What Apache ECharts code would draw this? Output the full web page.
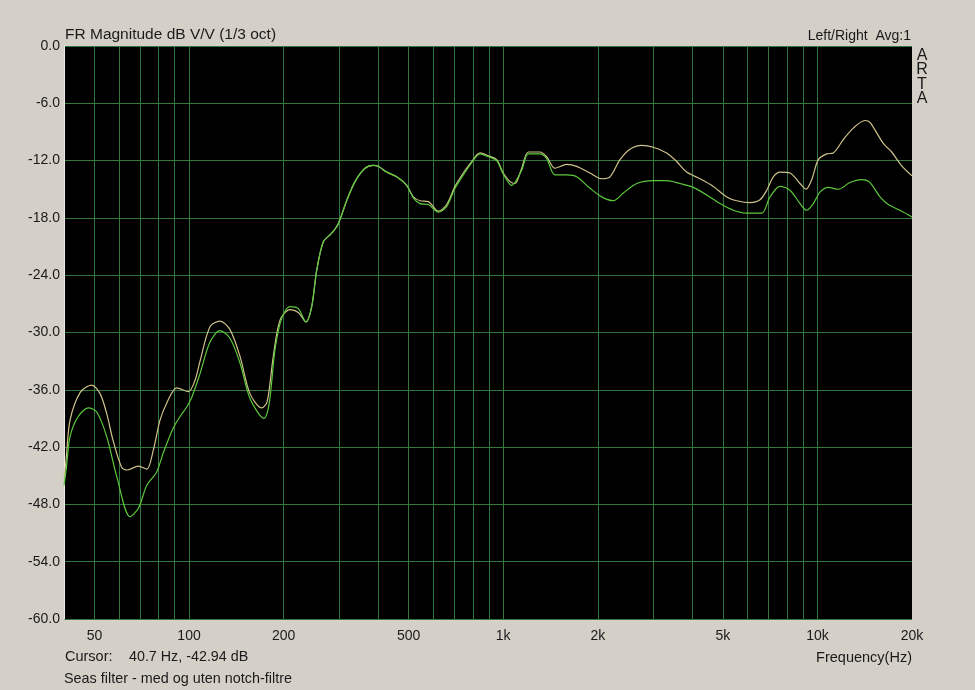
<!DOCTYPE html>
<html>
<head>
<meta charset="utf-8">
<script src="https://cdn.jsdelivr.net/npm/echarts@6/dist/echarts.min.js"></script>
<style>
html,body{margin:0;padding:0;background:#d4d0c8;}
#c{width:975px;height:690px;}
</style>
</head>
<body>
<div id="c"></div>
<script>
// ---- data ----
const freqA = [40, 40.7, 41.8, 45.0, 49.0, 52.1, 54.7, 57.3, 61.0, 63.4, 69.0, 73.4, 77.0, 80.8, 84.9, 91.4, 99.5, 104.5, 108.4, 116.6, 125.5, 135.0, 145.3, 156.3, 170.3, 177.4, 185.4, 194.8, 209.6, 222.7, 235.6, 245.7, 254.9, 267.6, 284.5, 298.6, 317.4, 337.5, 363.1, 385.9, 400.3, 425.6, 458.0, 492.9, 517.3, 543.3, 577.6, 621.6, 660.9, 702.3, 746.5, 793.7, 843.7, 896.5, 953.3, 1000, 1051, 1090, 1145, 1202, 1309, 1375, 1461, 1592, 1713, 1889, 2058, 2187, 2353, 2532, 2759, 3004, 3313, 3565, 3836, 4229, 4662, 5144, 5535, 6101, 6565, 6897, 7238, 7601, 8179, 8802, 9197, 9588, 10065, 10703, 11232, 12088, 13009, 14171, 14699, 16207, 17236, 18490, 20000];
const dbA = [-45.5, -43.0, -39.2, -36.3, -35.5, -36.4, -38.5, -41.3, -44.1, -44.4, -44.0, -44.3, -42.3, -39.2, -37.4, -35.8, -36.2, -35.0, -33.0, -29.4, -28.8, -29.7, -32.5, -36.4, -37.9, -37.2, -32.5, -28.7, -27.6, -27.9, -28.9, -27.3, -23.5, -20.5, -19.6, -18.6, -16.2, -14.2, -12.8, -12.5, -12.6, -13.2, -13.7, -14.6, -15.8, -16.2, -16.3, -17.3, -16.6, -14.7, -13.3, -12.1, -11.2, -11.5, -11.9, -13.3, -14.2, -14.4, -12.8, -11.1, -11.1, -11.6, -12.8, -12.4, -12.6, -13.3, -13.9, -13.7, -11.9, -10.8, -10.4, -10.6, -11.2, -12.1, -13.2, -13.9, -14.7, -15.8, -16.2, -16.4, -16.1, -15.1, -13.7, -13.2, -13.3, -14.4, -15.0, -14.0, -11.9, -11.3, -11.2, -9.8, -8.6, -7.8, -8.0, -10.2, -11.1, -12.5, -13.6];

const freqB = [40, 40.7, 41.8, 44.4, 47.8, 50.8, 54.7, 58.9, 64.9, 69.0, 73.4, 78.9, 82.8, 89.1, 93.6, 98.3, 102.0, 108.4, 116.6, 125.5, 135.0, 145.3, 156.3, 173.2, 180.0, 187.8, 197.2, 209.6, 222.7, 235.6, 245.7, 254.9, 267.6, 284.5, 298.6, 317.4, 337.5, 363.1, 385.9, 400.3, 425.6, 458.0, 492.9, 517.3, 543.3, 577.6, 621.6, 660.9, 702.3, 746.5, 793.7, 843.7, 896.5, 953.3, 1000, 1064, 1145, 1202, 1309, 1375, 1461, 1592, 1713, 1889, 2058, 2241, 2411, 2660, 3004, 3313, 3652, 4027, 4442, 4896, 5400, 5955, 6648, 7065, 7601, 8179, 8802, 9240, 9701, 10189, 10829, 11652, 12697, 13833, 14699, 15820, 16814, 18315, 20000];
const dbB = [-46.0, -44.2, -40.9, -38.8, -37.9, -38.3, -40.9, -45.1, -49.3, -48.4, -46.0, -44.6, -42.6, -40.0, -38.8, -37.8, -36.8, -34.3, -31.0, -29.8, -30.6, -33.2, -36.9, -39.0, -37.4, -31.8, -28.5, -27.3, -27.5, -28.9, -27.3, -23.5, -20.5, -19.6, -18.6, -16.2, -14.2, -12.8, -12.5, -12.6, -13.2, -13.7, -14.6, -15.9, -16.5, -16.6, -17.4, -16.8, -14.9, -13.5, -12.2, -11.3, -11.6, -12.0, -13.4, -14.6, -13.0, -11.3, -11.3, -11.8, -13.5, -13.5, -13.7, -14.9, -15.8, -16.2, -15.4, -14.4, -14.1, -14.1, -14.4, -14.8, -15.6, -16.5, -17.2, -17.5, -17.5, -15.8, -14.7, -15.1, -16.5, -17.2, -16.5, -15.3, -14.8, -15.0, -14.3, -14.0, -14.3, -15.8, -16.6, -17.2, -17.9];

const gridFreqs = [50, 60, 70, 80, 90, 100, 200, 300, 400, 500, 600, 700, 800, 900, 1000, 2000, 3000, 4000, 5000, 6000, 7000, 8000, 9000, 10000];
const xTickLabels = [50, 100, 200, 500, 1000, 2000, 5000, 10000, 20000];

const chart = echarts.init(document.getElementById('c'), null, {renderer: 'canvas'});
const FONT = 'Liberation Sans, Arial, sans-serif';
const TXT = '#1a1a1a';
const GRID = '#34783f';

chart.setOption({
  backgroundColor: '#d4d0c8',
  animation: false,
  grid: {left: 64, right: 63, top: 46, bottom: 71, show: true, backgroundColor: '#000000', borderWidth: 0},
  xAxis: {
    type: 'log', logBase: 10, min: 40, max: 20000,
    axisLine: {show: false},
    axisTick: {show: false, customValues: gridFreqs},
    splitLine: {show: true, lineStyle: {color: GRID, width: 1}},
    minorTick: {show: false}, minorSplitLine: {show: false},
    axisLabel: {
      customValues: xTickLabels,
      margin: 10, color: TXT, fontFamily: FONT, fontSize: 14,
      formatter: v => v >= 1000 ? (Math.round(v / 1000) + 'k') : String(Math.round(v))
    }
  },
  yAxis: {
    type: 'value', min: -60, max: 0, interval: 6,
    axisLine: {show: true, lineStyle: {color: '#ecebe6', width: 1}},
    axisTick: {show: false},
    splitLine: {show: true, lineStyle: {color: GRID, width: 1}},
    axisLabel: {margin: 4, color: TXT, fontFamily: FONT, fontSize: 14, formatter: v => v.toFixed(1)}
  },
  series: [
    {type: 'line', name: 'uten notch', data: freqA.map((f, i) => [f, dbA[i]]), showSymbol: false, smooth: 0.3,
     lineStyle: {color: '#cfc28a', width: 1.2}, z: 3},
    {type: 'line', name: 'med notch', data: freqB.map((f, i) => [f, dbB[i]]), showSymbol: false, smooth: 0.3,
     lineStyle: {color: '#5cc83c', width: 1.2}, z: 4}
  ],
  graphic: [
    {type: 'text', x: 65, y: 35, style: {text: 'FR Magnitude dB V/V (1/3 oct)', fill: TXT, font: '15.5px ' + FONT, verticalAlign: 'middle'}},
    {type: 'text', x: 911, y: 36, style: {text: 'Left/Right  Avg:1', fill: TXT, font: '14px ' + FONT, align: 'right', verticalAlign: 'middle'}},
    {type: 'text', x: 922, y: 55.5, style: {text: 'A', fill: TXT, font: '16px ' + FONT, align: 'center', verticalAlign: 'middle'}},
    {type: 'text', x: 922, y: 70, style: {text: 'R', fill: TXT, font: '16px ' + FONT, align: 'center', verticalAlign: 'middle'}},
    {type: 'text', x: 922, y: 84.5, style: {text: 'T', fill: TXT, font: '16px ' + FONT, align: 'center', verticalAlign: 'middle'}},
    {type: 'text', x: 922, y: 99, style: {text: 'A', fill: TXT, font: '16px ' + FONT, align: 'center', verticalAlign: 'middle'}},
    {type: 'text', x: 65, y: 657, style: {text: 'Cursor:', fill: TXT, font: '14.5px ' + FONT, verticalAlign: 'middle'}},
    {type: 'text', x: 129, y: 657, style: {text: '40.7 Hz, -42.94 dB', fill: TXT, font: '14.3px ' + FONT, verticalAlign: 'middle'}},
    {type: 'text', x: 912, y: 658, style: {text: 'Frequency(Hz)', fill: TXT, font: '14.5px ' + FONT, align: 'right', verticalAlign: 'middle'}},
    {type: 'text', x: 64, y: 679, style: {text: 'Seas filter - med og uten notch-filtre', fill: TXT, font: '14.4px ' + FONT, verticalAlign: 'middle'}}
  ]
});
</script>
</body>
</html>
